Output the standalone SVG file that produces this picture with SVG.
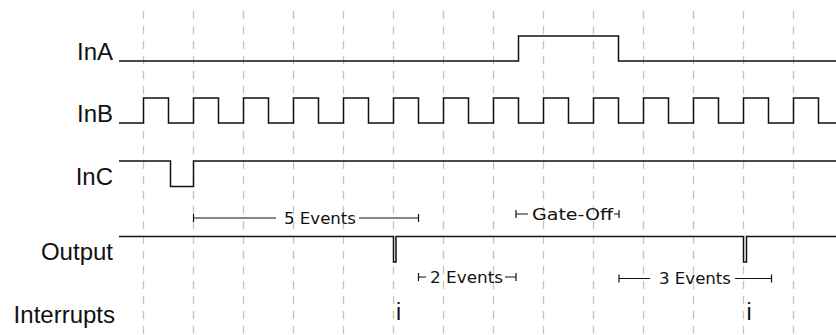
<svg xmlns="http://www.w3.org/2000/svg" width="836" height="335" viewBox="0 0 836 335">
  <style>
    .grid line { stroke: #c4c4c4; stroke-width: 1.3; stroke-dasharray: 8 7; }
    .sig { fill: none; stroke: #111; stroke-width: 1.5; stroke-linejoin: miter; }
    .lbl { font-family: "Liberation Sans", Arial, sans-serif; font-size: 24px; fill: #111; text-anchor: end; }
    .irq { font-family: "Liberation Sans", Arial, sans-serif; font-size: 23px; fill: #111; text-anchor: middle; }
    .mtxt { font-family: "DejaVu Sans", sans-serif; font-size: 16px; fill: #111; }
    .mline { stroke: #111; stroke-width: 1.2; fill: none; }
  </style>
  <rect width="836" height="335" fill="#fff"/>
  <g id="grid" class="grid">
    <line x1="143.5" y1="11" x2="143.5" y2="335"/>
    <line x1="193.5" y1="11" x2="193.5" y2="335"/>
    <line x1="243.5" y1="11" x2="243.5" y2="335"/>
    <line x1="293.5" y1="11" x2="293.5" y2="335"/>
    <line x1="343.5" y1="11" x2="343.5" y2="335"/>
    <line x1="393.5" y1="11" x2="393.5" y2="335"/>
    <line x1="443.5" y1="11" x2="443.5" y2="335"/>
    <line x1="493.5" y1="11" x2="493.5" y2="335"/>
    <line x1="543.5" y1="11" x2="543.5" y2="335"/>
    <line x1="593.5" y1="11" x2="593.5" y2="335"/>
    <line x1="643.5" y1="11" x2="643.5" y2="335"/>
    <line x1="693.5" y1="11" x2="693.5" y2="335"/>
    <line x1="743.5" y1="11" x2="743.5" y2="335"/>
    <line x1="793.5" y1="11" x2="793.5" y2="335"/>
  </g>
  <g id="InA">
    <text class="lbl" x="113" y="60">InA</text>
    <path class="sig" d="M119 61 H518.5 V36 H618.5 V61 H836"/>
  </g>
  <g id="InB">
    <text class="lbl" x="113" y="122">InB</text>
    <path class="sig" d="M119 123 H143.5 V98 H168.5 V123 H193.5 V98 H218.5 V123 H243.5 V98 H268.5 V123 H293.5 V98 H318.5 V123 H343.5 V98 H368.5 V123 H393.5 V98 H418.5 V123 H443.5 V98 H468.5 V123 H493.5 V98 H518.5 V123 H543.5 V98 H568.5 V123 H593.5 V98 H618.5 V123 H643.5 V98 H668.5 V123 H693.5 V98 H718.5 V123 H743.5 V98 H768.5 V123 H793.5 V98 H818.5 V123 H836"/>
  </g>
  <g id="InC">
    <text class="lbl" x="113" y="185">InC</text>
    <path class="sig" d="M119 161 H170.5 V186.5 H193.5 V161 H836"/>
  </g>
  <g id="Output">
    <text class="lbl" x="113" y="260">Output</text>
    <path class="sig" d="M119 236.5 H393.5 V262 H396 V236.5 H743.5 V262 H746.5 V236.5 H836"/>
  </g>
  <g id="Interrupts">
    <text class="lbl" x="115" y="322.5">Interrupts</text>
    <text class="irq" x="398.5" y="319.5">i</text>
    <text class="irq" x="749" y="319.5">i</text>
  </g>
  <g id="connectors">
    <g id="m-5events">
      <path class="mline" d="M193.5 214 V222 M193.5 218 H276 M359 218 H418.5 M418.5 214 V222"/>
      <text class="mtxt" x="284" y="223.5" textLength="72" lengthAdjust="spacingAndGlyphs">5 Events</text>
    </g>
    <g id="m-gateoff">
      <path class="mline" d="M516 210 V218 M516 214 H528 M614 214 H619 M619 210 V218"/>
      <text class="mtxt" x="532" y="220" textLength="81" lengthAdjust="spacingAndGlyphs">Gate-Off</text>
    </g>
    <g id="m-2events">
      <path class="mline" d="M418.5 273 V281 M418.5 277 H426 M505 277 H516 M516 273 V281"/>
      <text class="mtxt" x="430" y="282.5" textLength="73" lengthAdjust="spacingAndGlyphs">2 Events</text>
    </g>
    <g id="m-3events">
      <path class="mline" d="M619 274.5 V282.5 M619 278.5 H650 M735 278.5 H771.5 M771.5 274.5 V282.5"/>
      <text class="mtxt" x="659" y="284" textLength="72" lengthAdjust="spacingAndGlyphs">3 Events</text>
    </g>
  </g>
</svg>
